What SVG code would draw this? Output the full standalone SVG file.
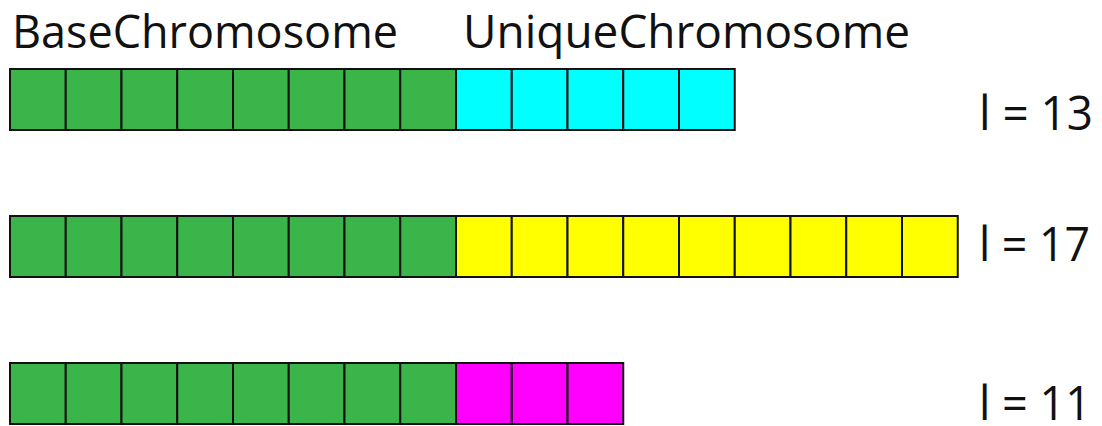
<svg xmlns="http://www.w3.org/2000/svg" width="1102" height="426" viewBox="0 0 1102 426">
  <style>
    .cell { stroke: #111; stroke-width: 2; }
    .base { fill: #3BB44A; }
    .cyan { fill: #00FFFF; }
    .yellow { fill: #FFFF00; }
    .magenta { fill: #FF00FF; }
    .title { font-family: "Open Sans", "Liberation Sans", sans-serif; font-size: 46px; fill: #111; }
    .len { font-family: "Open Sans", "Liberation Sans", sans-serif; font-size: 47px; fill: #111; }
  </style>
  <defs>
    <rect id="c" width="55.75" height="61" class="cell"/>
  </defs>
  <rect width="1102" height="426" fill="#fff"/>
  <g id="headers">
    <text class="title" x="12" y="48" textLength="386" lengthAdjust="spacingAndGlyphs">BaseChromosome</text>
    <text class="title" x="463" y="48" textLength="447" lengthAdjust="spacingAndGlyphs">UniqueChromosome</text>
  </g>
  <!-- chromosome 1: 8 base genes + 5 unique genes -->
  <g id="chromosome-13" transform="translate(10,69)">
    <use href="#c" x="0" class="base"/><use href="#c" x="55.75" class="base"/><use href="#c" x="111.5" class="base"/><use href="#c" x="167.25" class="base"/>
    <use href="#c" x="223" class="base"/><use href="#c" x="278.75" class="base"/><use href="#c" x="334.5" class="base"/><use href="#c" x="390.25" class="base"/>
    <use href="#c" x="446" class="cyan"/><use href="#c" x="501.75" class="cyan"/><use href="#c" x="557.5" class="cyan"/><use href="#c" x="613.25" class="cyan"/><use href="#c" x="669" class="cyan"/>
  </g>
  <text id="label-13" class="len" x="979" y="130" textLength="114" lengthAdjust="spacingAndGlyphs">l = 13</text>
  <!-- chromosome 2: 8 base genes + 9 unique genes -->
  <g id="chromosome-17" transform="translate(10,216)">
    <use href="#c" x="0" class="base"/><use href="#c" x="55.75" class="base"/><use href="#c" x="111.5" class="base"/><use href="#c" x="167.25" class="base"/>
    <use href="#c" x="223" class="base"/><use href="#c" x="278.75" class="base"/><use href="#c" x="334.5" class="base"/><use href="#c" x="390.25" class="base"/>
    <use href="#c" x="446" class="yellow"/><use href="#c" x="501.75" class="yellow"/><use href="#c" x="557.5" class="yellow"/><use href="#c" x="613.25" class="yellow"/><use href="#c" x="669" class="yellow"/>
    <use href="#c" x="724.75" class="yellow"/><use href="#c" x="780.5" class="yellow"/><use href="#c" x="836.25" class="yellow"/><use href="#c" x="892" class="yellow"/>
  </g>
  <text id="label-17" class="len" x="979" y="261" textLength="111" lengthAdjust="spacingAndGlyphs">l = 17</text>
  <!-- chromosome 3: 8 base genes + 3 unique genes -->
  <g id="chromosome-11" transform="translate(10,363)">
    <use href="#c" x="0" class="base"/><use href="#c" x="55.75" class="base"/><use href="#c" x="111.5" class="base"/><use href="#c" x="167.25" class="base"/>
    <use href="#c" x="223" class="base"/><use href="#c" x="278.75" class="base"/><use href="#c" x="334.5" class="base"/><use href="#c" x="390.25" class="base"/>
    <use href="#c" x="446" class="magenta"/><use href="#c" x="501.75" class="magenta"/><use href="#c" x="557.5" class="magenta"/>
  </g>
  <text id="label-11" class="len" x="979" y="420" textLength="112" lengthAdjust="spacingAndGlyphs">l = 11</text>
</svg>
